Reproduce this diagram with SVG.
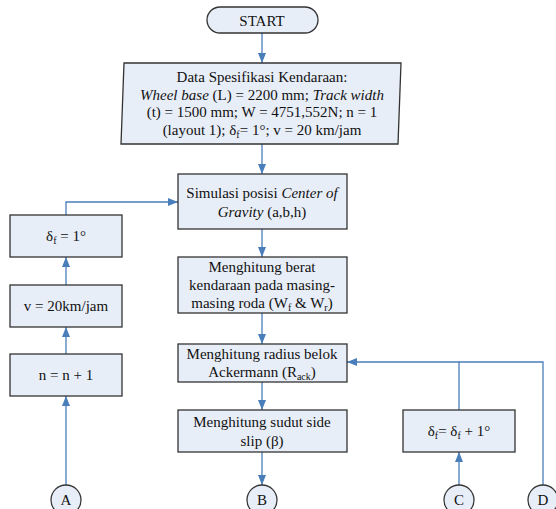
<svg xmlns="http://www.w3.org/2000/svg" width="556" height="509" viewBox="0 0 556 509">
<style>
.box{fill:#e8eef8;stroke:#333;stroke-width:1.3}
.t{font-family:"Liberation Serif","Times New Roman",serif;font-size:15px;fill:#111;text-anchor:middle}
.c{fill:none;stroke:#4a7ebb;stroke-width:1.3}
.sub{font-size:10px}
</style>
<defs>
<marker id="ah" markerUnits="userSpaceOnUse" markerWidth="10" markerHeight="10" viewBox="0 0 10 10" refX="10" refY="5" orient="auto">
<path d="M0,1 L10,5 L0,9 z" fill="#4a7ebb"/>
</marker>
</defs>
<rect width="556" height="509" fill="#fff"/>
<g id="connectors">
<line class="c" x1="262" y1="33" x2="262" y2="63" marker-end="url(#ah)"/>
<line class="c" x1="262" y1="144" x2="262" y2="174" marker-end="url(#ah)"/>
<line class="c" x1="262" y1="229" x2="262" y2="257" marker-end="url(#ah)"/>
<line class="c" x1="262" y1="313" x2="262" y2="344" marker-end="url(#ah)"/>
<line class="c" x1="262" y1="382" x2="262" y2="410" marker-end="url(#ah)"/>
<line class="c" x1="262" y1="452" x2="262" y2="485" marker-end="url(#ah)"/>
<line class="c" x1="66" y1="485" x2="66" y2="396" marker-end="url(#ah)"/>
<line class="c" x1="66" y1="354" x2="66" y2="327" marker-end="url(#ah)"/>
<line class="c" x1="66" y1="285" x2="66" y2="257" marker-end="url(#ah)"/>
<polyline class="c" points="66,215 66,202 178,202" marker-end="url(#ah)"/>
<line class="c" x1="459" y1="485" x2="459" y2="452" marker-end="url(#ah)"/>
<polyline class="c" points="459,410 459,362 347,362" marker-end="url(#ah)"/>
<polyline class="c" points="543,485 543,362 459,362"/>
</g>
<g id="start">
<rect class="box" x="207" y="7" width="111" height="26" rx="13"/>
<text class="t" x="262" y="26" font-size="16">START</text>
</g>
<g id="data">
<polygon class="box" points="124,63 401,63 398,144 121,144"/>
<text class="t" x="262" y="82">Data Spesifikasi Kendaraan:</text>
<text class="t" x="262" y="100"><tspan font-style="italic">Wheel base</tspan> (L) = 2200 mm; <tspan font-style="italic">Track width</tspan></text>
<text class="t" x="262" y="117">(t) = 1500 mm; W = 4751,552N; n = 1</text>
<text class="t" x="262" y="135">(layout 1); δ<tspan class="sub" dy="3">f</tspan><tspan dy="-3">= 1°; v = 20 km/jam</tspan></text>
</g>
<g id="simulasi">
<rect class="box" x="178" y="174" width="169" height="55"/>
<text class="t" x="262" y="198">Simulasi posisi <tspan font-style="italic">Center of</tspan></text>
<text class="t" x="262" y="217"><tspan font-style="italic">Gravity</tspan> (a,b,h)</text>
</g>
<g id="berat">
<rect class="box" x="178" y="257" width="169" height="56"/>
<text class="t" x="262" y="272">Menghitung berat</text>
<text class="t" x="262" y="290">kendaraan pada masing-</text>
<text class="t" x="262" y="308">masing roda (W<tspan class="sub" dy="3">f</tspan><tspan dy="-3"> &amp; W</tspan><tspan class="sub" dy="3">r</tspan><tspan dy="-3">)</tspan></text>
</g>
<g id="ackermann">
<rect class="box" x="178" y="344" width="169" height="38"/>
<text class="t" x="262" y="359">Menghitung radius belok</text>
<text class="t" x="262" y="377">Ackermann (R<tspan class="sub" dy="3">ack</tspan><tspan dy="-3">)</tspan></text>
</g>
<g id="sudut">
<rect class="box" x="178" y="410" width="169" height="42"/>
<text class="t" x="262" y="427">Menghitung sudut side</text>
<text class="t" x="262" y="446">slip (β)</text>
</g>
<g id="deltaf1">
<rect class="box" x="10" y="215" width="112" height="42"/>
<text class="t" x="66" y="241">δ<tspan class="sub" dy="3">f</tspan><tspan dy="-3"> = 1°</tspan></text>
</g>
<g id="v20">
<rect class="box" x="10" y="285" width="112" height="42"/>
<text class="t" x="66" y="311">v = 20km/jam</text>
</g>
<g id="nplus">
<rect class="box" x="10" y="354" width="112" height="42"/>
<text class="t" x="66" y="380">n = n + 1</text>
</g>
<g id="deltainc">
<rect class="box" x="403" y="410" width="112" height="42"/>
<text class="t" x="459" y="436">δ<tspan class="sub" dy="3">f</tspan><tspan dy="-3">= δ</tspan><tspan class="sub" dy="3">f</tspan><tspan dy="-3"> + 1°</tspan></text>
</g>
<g id="A">
<circle class="box" cx="66" cy="500" r="15"/>
<text class="t" x="66" y="505">A</text>
</g>
<g id="B">
<circle class="box" cx="262" cy="500" r="15"/>
<text class="t" x="262" y="505">B</text>
</g>
<g id="C">
<circle class="box" cx="459" cy="500" r="15"/>
<text class="t" x="459" y="505">C</text>
</g>
<g id="D">
<circle class="box" cx="543" cy="500" r="15"/>
<text class="t" x="543" y="505">D</text>
</g>
</svg>
